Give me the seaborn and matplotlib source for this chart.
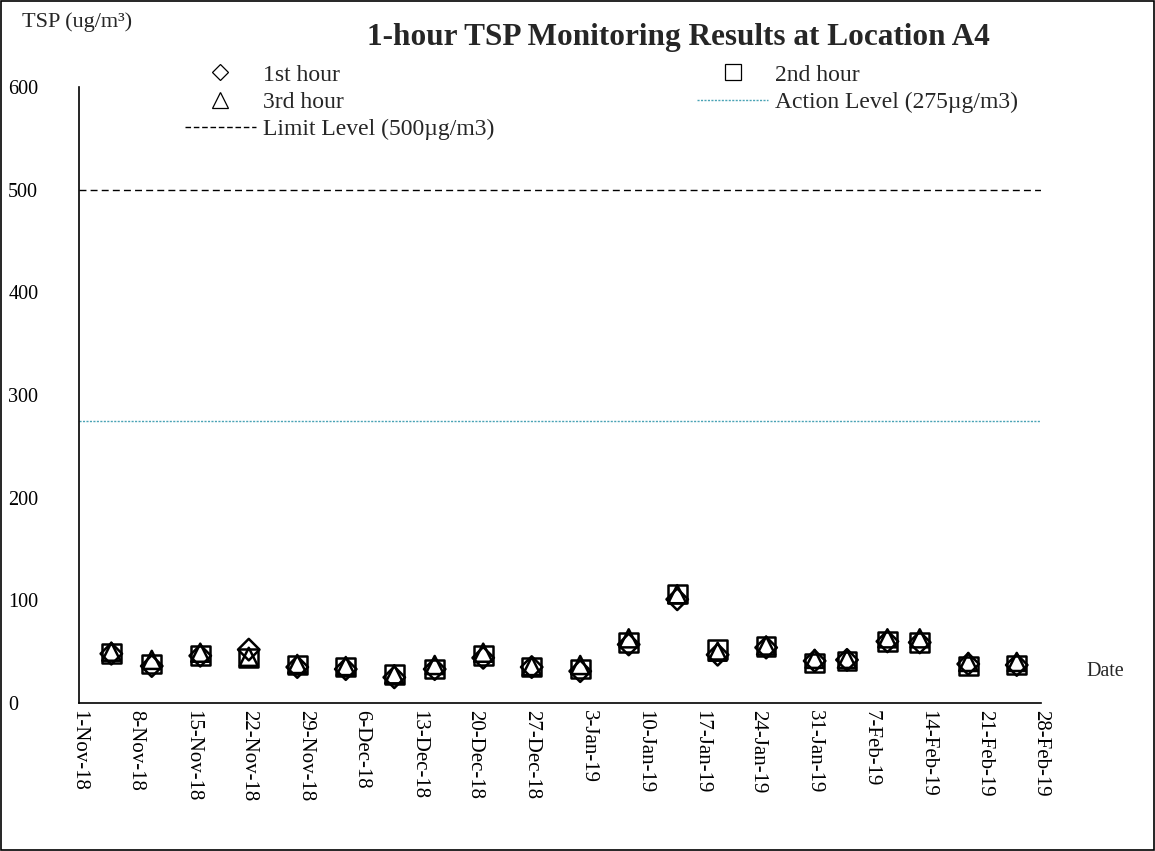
import matplotlib
matplotlib.use('Agg')
import matplotlib.pyplot as plt
from matplotlib.lines import Line2D
from matplotlib.patches import Rectangle
import seaborn as sns
import pandas as pd

# ---------------- data ----------------
dates = ['2018-11-05', '2018-11-10', '2018-11-16', '2018-11-22', '2018-11-28',
         '2018-12-04', '2018-12-10', '2018-12-15', '2018-12-21', '2018-12-27',
         '2019-01-02', '2019-01-08', '2019-01-14', '2019-01-19', '2019-01-25',
         '2019-01-31', '2019-02-04', '2019-02-09', '2019-02-13', '2019-02-19',
         '2019-02-25']
hour1 = [48, 36, 46, 52, 35, 33, 25, 33, 44, 35, 31, 57, 101, 47, 54, 41, 42, 60, 59, 38, 37]
hour2 = [48, 38, 46, 44, 37, 35, 28, 33, 46, 35, 33, 59, 106, 52, 55, 39, 41, 60, 59, 36, 37]
hour3 = [50, 42, 49, 45, 38, 36, 28, 37, 49, 36, 37, 63, 106, 50, 56, 43, 43, 63, 63, 40, 40]
limit_level = 500
action_level = 275
series_names = ['1st hour', '2nd hour', '3rd hour']
tick_dates = pd.date_range('2018-11-01', '2019-02-28', freq='7D')
tick_labels = [f"{d.day}-{d.strftime('%b-%y')}" for d in tick_dates]
y_ticks = [0, 100, 200, 300, 400, 500, 600]

# ---------------- style ----------------
sns.set_style('white')
plt.rcParams['font.family'] = ['Liberation Serif', 'DejaVu Serif']

fig = plt.figure(figsize=(11.55, 8.51), dpi=100)
ax = fig.add_axes([79 / 1155, 1 - 703 / 851, (1041 - 79) / 1155, (703 - 87) / 851])

df = pd.DataFrame({'date': pd.to_datetime(dates), '1st hour': hour1,
                   '2nd hour': hour2, '3rd hour': hour3})
long = df.melt(id_vars='date', var_name='hour', value_name='tsp')

marker_map = {'1st hour': 'D', '2nd hour': 's', '3rd hour': '^'}
size_map = {'1st hour': 120, '2nd hour': 180, '3rd hour': 170}
for name in series_names:
    sub = long[long['hour'] == name]
    sns.scatterplot(data=sub, x='date', y='tsp', marker=marker_map[name],
                    s=size_map[name], facecolor='none', edgecolor='black',
                    linewidth=1.8, ax=ax, legend=False, zorder=5)

ax.axhline(limit_level, color='black', linestyle=(0, (5, 3)), linewidth=1.0, zorder=2)
ax.axhline(action_level, color='#4aa3b5', linestyle=(0, (1.5, 1)), linewidth=1.0, zorder=2)

ax.set_xlim(tick_dates[0], tick_dates[-1])
ax.set_ylim(0, 600)
ax.set_xticks(tick_dates)
ax.set_xticklabels(tick_labels, rotation=270, ha='center', va='top', fontsize=15)
ax.set_yticks(y_ticks)
ax.set_yticklabels([str(v) for v in y_ticks], fontsize=14.5, ha='left')
ax.tick_params(axis='y', direction='in', length=7, width=1, pad=51, colors='black')
ax.tick_params(axis='x', direction='in', length=7, width=1, pad=5, colors='black')
ax.set_xlabel('')
ax.set_ylabel('')
for sp in ['top', 'right']:
    ax.spines[sp].set_visible(False)
for sp in ['left', 'bottom']:
    ax.spines[sp].set_color('black')
    ax.spines[sp].set_linewidth(1.2)

# legend
handles = [
    Line2D([], [], linestyle='none', marker='D', markersize=8, markerfacecolor='none',
           markeredgecolor='black', markeredgewidth=0.9),
    Line2D([], [], linestyle='none', marker='^', markersize=11, markerfacecolor='none',
           markeredgecolor='black', markeredgewidth=0.9),
    Line2D([], [], color='black', linestyle=(0, (4, 2)), linewidth=1.0),
    Line2D([], [], linestyle='none', marker='s', markersize=12, markerfacecolor='none',
           markeredgecolor='black', markeredgewidth=0.9),
    Line2D([], [], color='#4aa3b5', linestyle=(0, (1.5, 1)), linewidth=1.0),
]
labels = ['1st hour', '3rd hour', 'Limit Level (500µg/m3)', '2nd hour',
          'Action Level (275µg/m3)']
fig.legend(handles, labels, ncol=2, loc='upper left',
           bbox_to_anchor=(185 / 1155, 1 - 64 / 851), frameon=False, fontsize=17,
           handlelength=3.0, handletextpad=0.3, columnspacing=8.6,
           labelspacing=0.25, borderpad=0, borderaxespad=0)

# titles and labels
fig.text(678 / 1155, 1 - 37 / 851, '1-hour TSP Monitoring Results at Location A4',
         ha='center', va='center', fontsize=22.5, fontweight='bold')
fig.text(22 / 1155, 1 - 22 / 851, 'TSP (ug/m³)', ha='left', va='center', fontsize=16)
fig.text(1086 / 1155, 1 - 672 / 851, 'Date', ha='left', va='center', fontsize=14.5)

# outer frame
fig.patches.append(Rectangle((0.001, 0.001), 0.998, 0.998, transform=fig.transFigure,
                             fill=False, edgecolor='black', linewidth=1.2))

fig.savefig('out.png', dpi=100)
